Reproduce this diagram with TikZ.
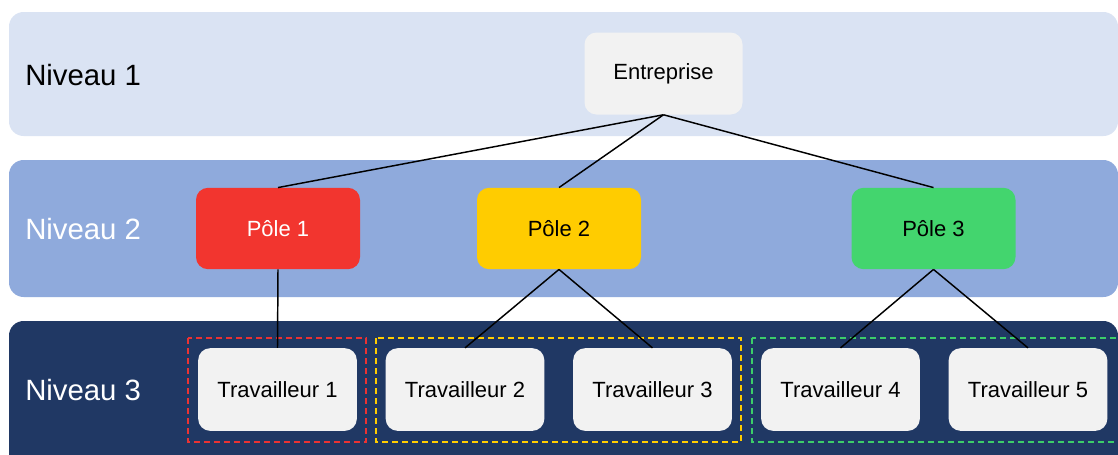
\documentclass[tikz,border=0pt]{standalone}
\usepackage{fontspec}
\setmainfont{Liberation Sans}
\definecolor{bandA}{RGB}{218,227,243}
\definecolor{bandB}{RGB}{143,170,220}
\definecolor{bandC}{RGB}{32,56,100}
\definecolor{boxgray}{RGB}{242,242,242}
\definecolor{polered}{RGB}{242,53,47}
\definecolor{poleyellow}{RGB}{255,204,0}
\definecolor{polegreen}{RGB}{67,213,110}
\definecolor{dashred}{RGB}{235,50,50}
\definecolor{dashyellow}{RGB}{255,204,0}
\definecolor{dashgreen}{RGB}{60,205,105}
\begin{document}
\begin{tikzpicture}[x=0.75pt,y=-0.75pt,
  band/.style={rounded corners=11pt},
  level/.style={anchor=west,inner sep=0pt,font=\fontsize{22}{26}\selectfont},
  box/.style={rectangle,rounded corners=9pt,inner sep=0pt,
    font=\fontsize{16.5}{20}\selectfont},
  topbox/.style={box,fill=boxgray,minimum width=118.5pt,minimum height=61.5pt},
  polebox/.style={box,minimum width=123pt,minimum height=61pt},
  workbox/.style={box,fill=boxgray,minimum width=119pt,minimum height=62pt},
  group/.style={dashed,dash pattern=on 4.5pt off 3pt,line width=1.1pt},
  link/.style={line width=1.1pt,black}]
\useasboundingbox (0,0) rectangle (1118,454);
\clip (0,0) rectangle (1118,454);
\fill[white] (0,0) rectangle (1118,454);
% bands
\fill[bandA,band] (9,12) rectangle (1118,136);
\fill[bandB,band] (9,160) rectangle (1118,297);
\fill[bandC,band] (9,321) rectangle (1118,475);
% level labels
\node[level,text=black] (l1) at (25,75) {Niveau 1};
\node[level,text=white] (l2) at (25,229) {Niveau 2};
\node[level,text=white] (l3) at (25,390) {Niveau 3};
% groups
\draw[group,dashred] (188,338) rectangle (366,442);
\draw[group,dashyellow] (376,338) rectangle (741,442);
\draw[group,dashgreen] (752,338) rectangle (1125,442);
% nodes
\node[topbox] (ent) at (663.5,73.5) {Entreprise};
\node[polebox,fill=polered,text=white] (p1) at (278,228.5) {Pôle 1};
\node[polebox,fill=poleyellow,text=black] (p2) at (559,228.5) {Pôle 2};
\node[polebox,fill=polegreen,text=black] (p3) at (933.5,228.5) {Pôle 3};
\node[workbox] (t1) at (277.5,389.5) {Travailleur 1};
\node[workbox] (t2) at (465,389.5) {Travailleur 2};
\node[workbox] (t3) at (652.5,389.5) {Travailleur 3};
\node[workbox] (t4) at (840.5,389.5) {Travailleur 4};
\node[workbox] (t5) at (1028,389.5) {Travailleur 5};
% links
\draw[link] (ent.south) -- (p1.north);
\draw[link] (ent.south) -- (p2.north);
\draw[link] (ent.south) -- (p3.north);
\draw[link] (p1.south) -- (t1.north);
\draw[link] (p2.south) -- (t2.north);
\draw[link] (p2.south) -- (t3.north);
\draw[link] (p3.south) -- (t4.north);
\draw[link] (p3.south) -- (t5.north);
\end{tikzpicture}
\end{document}
